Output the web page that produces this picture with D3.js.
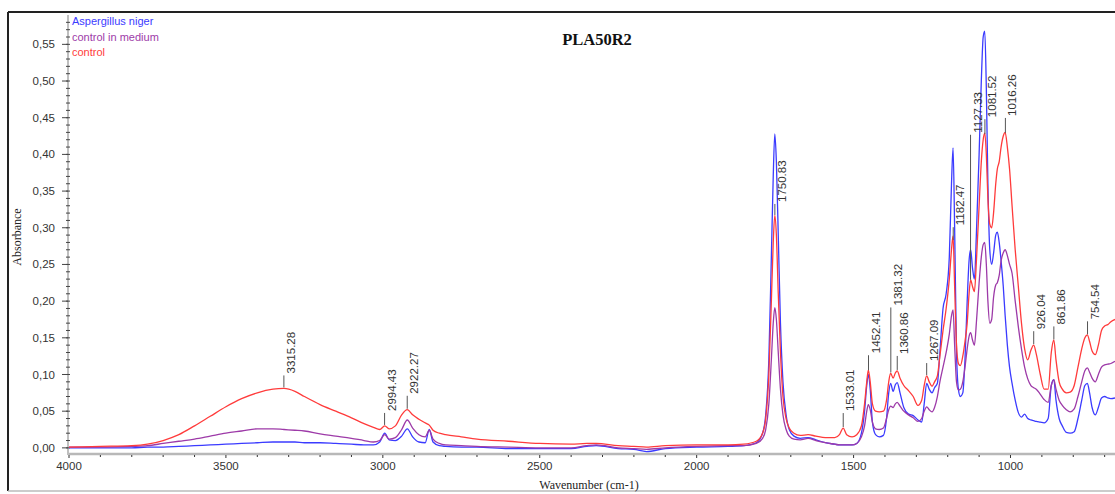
<!DOCTYPE html>
<html>
<head>
<meta charset="utf-8">
<script src="https://cdn.jsdelivr.net/npm/d3@7"></script>
<style>
  body { margin: 0; background: #fff; }
  svg { display: block; }
</style>
</head>
<body>
<svg id="chart" width="1115" height="494"></svg>
<script>
// wavenumbers (cm-1), descending, shared by the three spectra
const wavenumbers = [
  4000, 3900, 3800, 3750, 3700, 3650, 3600, 3550, 3500, 3450, 3400, 3350, 3315, 3280, 3250, 3200, 3150, 3100, 3060, 3030,
  3010, 2994, 2980, 2960, 2940, 2922, 2905, 2885, 2865, 2852, 2840, 2820, 2800, 2750, 2700, 2600, 2500, 2400, 2350, 2320,
  2250, 2200, 2160, 2100, 2000, 1900, 1850, 1810, 1790, 1780, 1770, 1762, 1756, 1751, 1746, 1740, 1733, 1725, 1715, 1705,
  1690, 1670, 1645, 1620, 1590, 1560, 1545, 1533, 1522, 1505, 1490, 1475, 1465, 1458, 1453, 1447, 1440, 1430, 1418, 1405,
  1395, 1388, 1382, 1374, 1367, 1361, 1352, 1340, 1325, 1310, 1295, 1283, 1275, 1267, 1259, 1250, 1242, 1233, 1225, 1215,
  1205, 1195, 1188, 1183, 1178, 1172, 1166, 1160, 1152, 1145, 1138, 1132, 1127, 1121, 1115, 1108, 1100, 1093, 1087, 1082,
  1077, 1072, 1066, 1060, 1054, 1047, 1042, 1036, 1030, 1023, 1017, 1010, 1003, 995, 985, 975, 965, 955, 945, 935,
  926, 918, 905, 893, 880, 870, 862, 855, 845, 835, 822, 810, 797, 785, 773, 763, 755, 748, 740, 730,
  720, 710, 700, 690, 680, 667
];

// Aspergillus niger
const aspergillus = [
  0.000, 0.000, 0.000, 0.001, 0.001, 0.002, 0.003, 0.004, 0.005, 0.006, 0.007, 0.008, 0.008, 0.008, 0.007, 0.007, 0.006, 0.005, 0.004, 0.004,
  0.008, 0.020, 0.011, 0.010, 0.016, 0.026, 0.015, 0.008, 0.007, 0.025, 0.008, 0.003, 0.002, 0.001, 0.001, -0.001, -0.001, -0.001, 0.002, 0.003,
  -0.001, -0.002, -0.005, -0.001, 0.001, 0.002, 0.003, 0.007, 0.020, 0.045, 0.120, 0.260, 0.370, 0.428, 0.390, 0.290, 0.170, 0.090, 0.045, 0.025,
  0.016, 0.013, 0.014, 0.011, 0.007, 0.005, 0.004, 0.004, 0.004, 0.004, 0.006, 0.020, 0.050, 0.085, 0.100, 0.080, 0.035, 0.018, 0.015, 0.017,
  0.040, 0.075, 0.088, 0.077, 0.086, 0.089, 0.075, 0.055, 0.046, 0.044, 0.038, 0.035, 0.060, 0.088, 0.080, 0.075, 0.082, 0.088, 0.130, 0.190,
  0.210, 0.260, 0.360, 0.409, 0.300, 0.130, 0.080, 0.070, 0.075, 0.120, 0.200, 0.255, 0.270, 0.245, 0.230, 0.300, 0.400, 0.500, 0.560, 0.568,
  0.490, 0.360, 0.270, 0.250, 0.265, 0.290, 0.294, 0.280, 0.255, 0.220, 0.180, 0.140, 0.110, 0.088, 0.065, 0.048, 0.042, 0.046, 0.040, 0.038,
  0.037, 0.036, 0.035, 0.034, 0.040, 0.085, 0.093, 0.065, 0.040, 0.030, 0.021, 0.020, 0.022, 0.040, 0.065, 0.085, 0.088, 0.075, 0.055, 0.045,
  0.055, 0.068, 0.070, 0.068, 0.067, 0.068
];

// control in medium
const controlMedium = [
  0.001, 0.001, 0.002, 0.003, 0.006, 0.009, 0.012, 0.016, 0.020, 0.023, 0.026, 0.026, 0.025, 0.024, 0.023, 0.019, 0.016, 0.013, 0.010, 0.008,
  0.010, 0.018, 0.012, 0.014, 0.025, 0.038, 0.027, 0.018, 0.015, 0.024, 0.012, 0.006, 0.004, 0.003, 0.002, 0.001, 0.000, 0.000, 0.003, 0.004,
  0.000, -0.001, -0.002, 0.000, 0.002, 0.003, 0.003, 0.006, 0.013, 0.025, 0.060, 0.120, 0.170, 0.191, 0.175, 0.130, 0.080, 0.045, 0.025, 0.016,
  0.012, 0.011, 0.013, 0.010, 0.007, 0.005, 0.004, 0.004, 0.004, 0.004, 0.006, 0.015, 0.030, 0.050, 0.059, 0.052, 0.035, 0.026, 0.025, 0.027,
  0.040, 0.052, 0.057, 0.055, 0.060, 0.062, 0.057, 0.050, 0.045, 0.041, 0.036, 0.040, 0.050, 0.056, 0.052, 0.049, 0.055, 0.070, 0.090, 0.110,
  0.130, 0.155, 0.180, 0.188, 0.140, 0.090, 0.079, 0.080, 0.090, 0.110, 0.135, 0.152, 0.157, 0.147, 0.140, 0.175, 0.225, 0.260, 0.277, 0.280,
  0.250, 0.200, 0.170, 0.175, 0.205, 0.222, 0.225, 0.235, 0.255, 0.266, 0.270, 0.262, 0.250, 0.238, 0.200, 0.165, 0.135, 0.110, 0.094, 0.085,
  0.082, 0.080, 0.073, 0.066, 0.062, 0.085, 0.093, 0.080, 0.065, 0.058, 0.052, 0.049, 0.053, 0.070, 0.090, 0.105, 0.109, 0.103, 0.095, 0.090,
  0.100, 0.110, 0.113, 0.114, 0.115, 0.118
];

// control
const control = [
  0.001, 0.002, 0.003, 0.005, 0.010, 0.018, 0.030, 0.043, 0.056, 0.067, 0.075, 0.080, 0.081, 0.077, 0.070, 0.059, 0.050, 0.041, 0.033, 0.028,
  0.025, 0.030, 0.026, 0.030, 0.045, 0.052, 0.045, 0.039, 0.034, 0.031, 0.024, 0.020, 0.018, 0.015, 0.012, 0.009, 0.006, 0.005, 0.006, 0.006,
  0.003, 0.002, 0.001, 0.003, 0.004, 0.004, 0.005, 0.009, 0.020, 0.040, 0.100, 0.200, 0.280, 0.317, 0.290, 0.210, 0.130, 0.070, 0.040, 0.027,
  0.020, 0.017, 0.018, 0.016, 0.014, 0.014, 0.018, 0.027, 0.018, 0.015, 0.018, 0.030, 0.060, 0.090, 0.106, 0.090, 0.060, 0.050, 0.049, 0.050,
  0.065, 0.090, 0.102, 0.095, 0.102, 0.105, 0.095, 0.085, 0.078, 0.070, 0.058, 0.065, 0.085, 0.098, 0.090, 0.084, 0.090, 0.098, 0.125, 0.160,
  0.190, 0.230, 0.270, 0.289, 0.220, 0.140, 0.115, 0.112, 0.125, 0.145, 0.170, 0.210, 0.229, 0.220, 0.213, 0.260, 0.330, 0.390, 0.420, 0.429,
  0.400, 0.340, 0.305, 0.300, 0.320, 0.360, 0.380, 0.390, 0.410, 0.425, 0.430, 0.410, 0.380, 0.330, 0.270, 0.220, 0.170, 0.135, 0.120, 0.133,
  0.140, 0.128, 0.100, 0.080, 0.080, 0.130, 0.147, 0.120, 0.090, 0.080, 0.075, 0.076, 0.085, 0.110, 0.135, 0.150, 0.154, 0.145, 0.132, 0.127,
  0.140, 0.160, 0.166, 0.168, 0.172, 0.175
];

const seriesNames = ['Aspergillus niger', 'control in medium', 'control'];
const seriesColors = ['#3b3bff', '#9d3aa8', '#ff3b3b'];

const xTicks = [4000, 3500, 3000, 2500, 2000, 1500, 1000];
const yTicks = [0, 0.05, 0.10, 0.15, 0.20, 0.25, 0.30, 0.35, 0.40, 0.45, 0.50, 0.55];

// peak picks on the control spectrum
const peakPositions = [3315.28, 2994.43, 2922.27, 1750.83, 1533.01, 1452.41, 1381.32, 1360.86, 1267.09, 1182.47, 1127.33, 1081.52, 1016.26, 926.04, 861.86, 754.54];
const leaderLengths = [12, 12, 13, 11, 14, 15, 65, 14, 12, 13, 145, 15, 15, 13, 13, 13];

const svg = d3.select('#chart');
const W = 1115, H = 494;
const plotLeft = 69, plotRight = 1115, plotTop = 15, plotBottom = 453;

const x = d3.scaleLinear().domain([4000, 667]).range([plotLeft, plotRight]);
const y = d3.scaleLinear().domain([-0.007, 0.59]).range([plotBottom, plotTop]);

// outer frame
svg.append('line').attr('x1', 8).attr('x2', W).attr('y1', 12).attr('y2', 12)
    .attr('stroke', '#222').attr('stroke-width', 2);
svg.append('line').attr('x1', 8).attr('x2', 8).attr('y1', 12).attr('y2', 491)
    .attr('stroke', '#222').attr('stroke-width', 2);
svg.append('line').attr('x1', 8).attr('x2', W).attr('y1', 491).attr('y2', 491)
    .attr('stroke', '#bbb').attr('stroke-width', 1.5);

svg.append('defs').append('clipPath').attr('id', 'plotclip')
  .append('rect').attr('x', plotLeft).attr('y', plotTop)
    .attr('width', plotRight - plotLeft).attr('height', plotBottom - plotTop);

// x axis
const xAxisG = svg.append('g');
xAxisG.append('line')
    .attr('x1', plotLeft).attr('x2', plotRight)
    .attr('y1', plotBottom + 1).attr('y2', plotBottom + 1)
    .attr('stroke', '#b8b8b8').attr('stroke-width', 2.5);
xAxisG.selectAll('.xminor')
  .data(d3.range(4000, 660, -100))
  .enter().append('line')
    .attr('class', 'xminor')
    .attr('x1', d => x(d)).attr('x2', d => x(d))
    .attr('y1', plotBottom + 2).attr('y2', d => plotBottom + (d % 500 === 0 ? 5 : 4))
    .attr('stroke', '#333').attr('stroke-width', 1);
xAxisG.selectAll('.xlabel')
  .data(xTicks)
  .enter().append('text')
    .attr('class', 'xlabel')
    .attr('x', d => x(d)).attr('y', 470)
    .attr('text-anchor', 'middle')
    .attr('font-family', 'Liberation Sans, Arial, sans-serif')
    .attr('font-size', 11.5).attr('fill', '#333')
    .text(d => d);
svg.append('text')
    .attr('x', 589).attr('y', 489)
    .attr('text-anchor', 'middle')
    .attr('font-family', 'Liberation Serif, Times New Roman, serif')
    .attr('font-size', 12).attr('fill', '#222')
    .text('Wavenumber (cm-1)');

// y axis
const yAxisG = svg.append('g');
yAxisG.append('line')
    .attr('x1', plotLeft - 1).attr('x2', plotLeft - 1)
    .attr('y1', plotTop).attr('y2', plotBottom + 2)
    .attr('stroke', '#aaa').attr('stroke-width', 1.5);
yAxisG.selectAll('.yminor')
  .data(d3.range(0, 59).map(i => i / 100))
  .enter().append('line')
    .attr('class', 'yminor')
    .attr('x1', plotLeft - 3).attr('x2', plotLeft + 1)
    .attr('y1', d => y(d)).attr('y2', d => y(d))
    .attr('stroke', '#444').attr('stroke-width', 1);
yAxisG.selectAll('.ymajor')
  .data(yTicks)
  .enter().append('line')
    .attr('class', 'ymajor')
    .attr('x1', plotLeft - 7).attr('x2', plotLeft - 1)
    .attr('y1', d => y(d)).attr('y2', d => y(d))
    .attr('stroke', '#444').attr('stroke-width', 1);
yAxisG.selectAll('.ylabel')
  .data(yTicks)
  .enter().append('text')
    .attr('class', 'ylabel')
    .attr('x', plotLeft - 14).attr('y', d => y(d))
    .attr('dy', '0.35em')
    .attr('text-anchor', 'end')
    .attr('font-family', 'Liberation Sans, Arial, sans-serif')
    .attr('font-size', 11.5).attr('fill', '#333')
    .text(d => d3.format('.2f')(d).replace('.', ','));
svg.append('text')
    .attr('transform', 'translate(21,237) rotate(-90)')
    .attr('text-anchor', 'middle')
    .attr('font-family', 'Liberation Serif, Times New Roman, serif')
    .attr('font-size', 12).attr('fill', '#222')
    .text('Absorbance');

// spectra
const spectra = [aspergillus, controlMedium, control];
const line = d3.line()
    .x((d, i) => x(wavenumbers[i]))
    .y(d => y(d))
    .curve(d3.curveMonotoneX);

const plotG = svg.append('g').attr('clip-path', 'url(#plotclip)');
plotG.selectAll('.spec')
  .data(spectra)
  .enter().append('path')
    .attr('class', 'spec')
    .attr('d', d => line(d))
    .attr('fill', 'none')
    .attr('stroke', (d, i) => seriesColors[i])
    .attr('stroke-width', 1.3)
    .attr('stroke-linejoin', 'round');

// peak labels
function valueAt(series, wn) {
  for (let i = 0; i < wavenumbers.length - 1; i++) {
    if (wavenumbers[i] >= wn && wavenumbers[i + 1] <= wn) {
      const t = (wavenumbers[i] - wn) / (wavenumbers[i] - wavenumbers[i + 1]);
      return series[i] + t * (series[i + 1] - series[i]);
    }
  }
  return series[series.length - 1];
}

const peakG = svg.append('g');
peakPositions.forEach((wn, i) => {
  const px = x(wn);
  const py = y(valueAt(control, wn)) - 1;
  const top = py - leaderLengths[i];
  peakG.append('line')
      .attr('x1', px).attr('x2', px)
      .attr('y1', py).attr('y2', top)
      .attr('stroke', '#555').attr('stroke-width', 1);
  peakG.append('text')
      .attr('transform', 'translate(' + (px + 7) + ',' + (top - 2) + ') rotate(-90)')
      .attr('dy', '0.35em')
      .attr('font-family', 'Liberation Sans, Arial, sans-serif')
      .attr('font-size', 11.5).attr('fill', '#333')
      .text(d3.format('.2f')(wn));
});

// title
svg.append('text')
    .attr('x', 597).attr('y', 45)
    .attr('text-anchor', 'middle')
    .attr('font-family', 'Liberation Serif, Times New Roman, serif')
    .attr('font-weight', 'bold')
    .attr('font-size', 16.5).attr('fill', '#111')
    .text('PLA50R2');

// legend
svg.selectAll('.legend')
  .data(seriesNames)
  .enter().append('text')
    .attr('class', 'legend')
    .attr('x', 72).attr('y', (d, i) => 25 + i * 15.5)
    .attr('font-family', 'Liberation Sans, Arial, sans-serif')
    .attr('font-size', 11)
    .attr('fill', (d, i) => seriesColors[i])
    .text(d => d);
</script>
</body>
</html>
